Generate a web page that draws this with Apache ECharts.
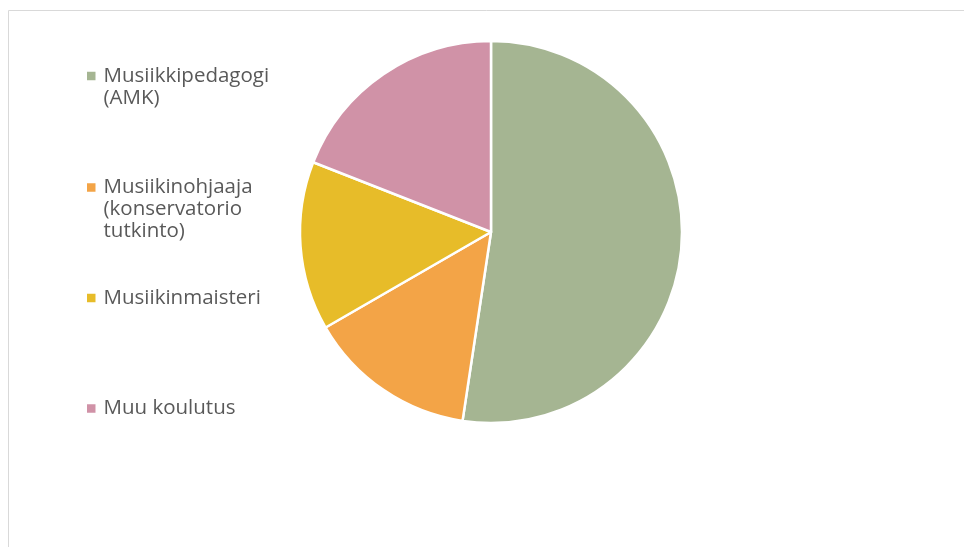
<!DOCTYPE html>
<html>
<head>
<meta charset="utf-8">
<script src="https://cdn.jsdelivr.net/npm/echarts@6/dist/echarts.min.js"></script>
<style>html,body{margin:0;padding:0;background:#fff}#c{width:964px;height:547px}</style>
</head>
<body>
<div id="c"></div>
<script>
const categories = ['Musiikkipedagogi\n(AMK)', 'Musiikinohjaaja\n(konservatorio\ntutkinto)', 'Musiikinmaisteri', 'Muu koulutus'];
const values = [22, 6, 6, 8];
const colors = ['#A5B592', '#F3A447', '#E7BC29', '#D092A7'];
const legendTops = [65.5, 177, 287.5, 398];

const chart = echarts.init(document.getElementById('c'), null, {renderer: 'canvas'});
const legends = categories.map((name, i) => ({
  data: [name],
  left: 81,
  top: legendTops[i],
  padding: 0,
  orient: 'vertical',
  icon: 'rect',
  itemWidth: 0,
  itemHeight: 0,
  selectedMode: false,
  formatter: n => n.split('\n').map((l, j) => (j === 0 ? '{m|}' : '{s|}') + '{t|' + l + '}').join('\n'),
  textStyle: {
    rich: {
      m: {width: 8.5, height: 8.5, backgroundColor: colors[i], verticalAlign: 'middle'},
      s: {width: 8.5, height: 8.5},
      t: {fontFamily: 'Open Sans', fontSize: 20.5, lineHeight: 22, color: '#595959', padding: [0, 0, 0, 8], verticalAlign: 'middle'}
    }
  }
}));

chart.setOption({
  animation: false,
  color: colors,
  legend: legends,
  graphic: [{
    type: 'polyline',
    shape: {points: [[8.5, 560], [8.5, 10.5], [970, 10.5]]},
    style: {stroke: '#D9D9D9', lineWidth: 1, fill: null},
    silent: true
  }],
  series: [{
    type: 'pie',
    center: [491, 232],
    radius: 191,
    startAngle: 90,
    clockwise: true,
    label: {show: false},
    labelLine: {show: false},
    itemStyle: {borderColor: '#fff', borderWidth: 2.5},
    emphasis: {disabled: true},
    data: categories.map((n, i) => ({name: n, value: values[i]}))
  }]
});
</script>
</body>
</html>
